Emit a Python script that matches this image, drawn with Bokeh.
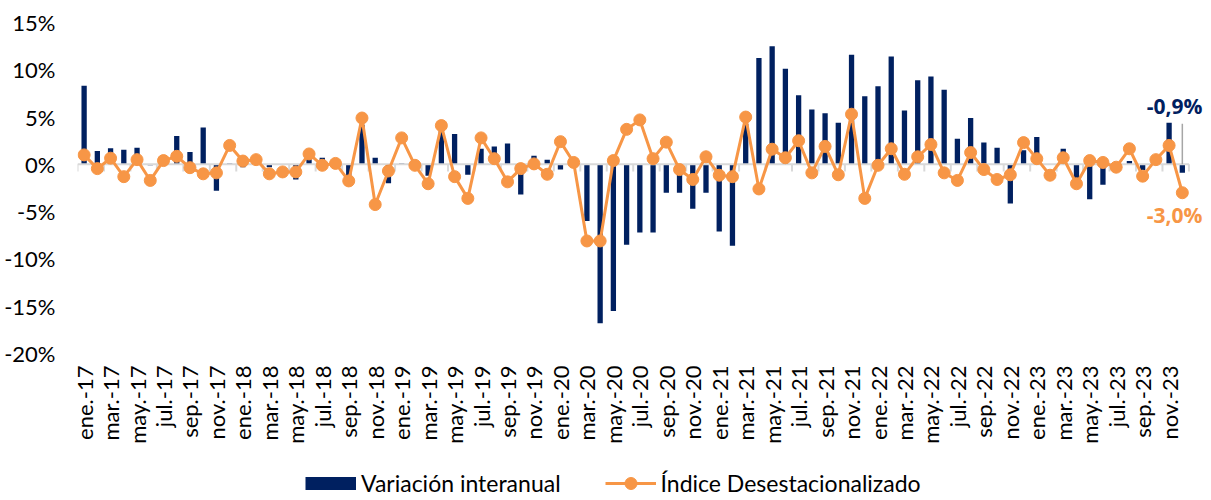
from math import pi
from bokeh.plotting import figure
from bokeh.layouts import column
from bokeh.models import FixedTicker, Legend, LegendItem, Label, Range1d
from bokeh.embed import file_html
from bokeh.resources import INLINE

# ---------------- data ----------------
months_es = ["ene.", "feb.", "mar.", "abr.", "may.", "jun.",
             "jul.", "ago.", "sep.", "oct.", "nov.", "dic."]
years = ["17", "18", "19", "20", "21", "22", "23"]
month_labels = [f"{m}-{y}" for y in years for m in months_es]

# Variación interanual (%)
variacion_interanual = [
    8.3, 1.4, 1.7, 1.55, 1.75, -0.1, 0.95, 3.0, 1.3, 3.9, -2.8, 0.1,        # 2017
    -0.3, 0.05, -0.3, 0.05, -1.6, 0.8, 0.7, 0.05, -1.2, 4.2, 0.7, -2.0,     # 2018
    0.1, 0.0, -1.2, 3.6, 3.2, -1.1, 1.65, 1.9, 2.2, -3.2, 0.9, 0.5,         # 2019
    -0.55, 0.0, -6.0, -16.8, -15.5, -8.5, -7.2, -7.2, -3.0, -3.0, -4.7, -3.0,  # 2020
    -7.1, -8.6, 4.3, 11.25, 12.5, 10.1, 7.3, 5.8, 5.4, 4.4, 11.6, 7.2,      # 2021
    8.25, 11.4, 5.7, 8.9, 9.3, 7.9, 2.7, 4.9, 2.3, 1.75, -4.15, 1.5,        # 2022
    2.9, 0.0, 1.65, -1.5, -3.7, -2.15, 0.05, 0.35, -0.6, 0.0, 4.4, -0.9,    # 2023
]

# Índice Desestacionalizado (variación mensual, %)
indice_desestacionalizado = [
    1.0, -0.45, 0.65, -1.3, 0.5, -1.7, 0.4, 0.85, -0.35, -1.0, -0.9, 2.0,   # 2017
    0.35, 0.5, -1.0, -0.8, -0.8, 1.1, -0.1, 0.1, -1.75, 4.9, -4.25, -0.7,   # 2018
    2.8, -0.1, -2.05, 4.1, -1.3, -3.6, 2.8, 0.6, -1.85, -0.45, 0.05, -1.05, # 2019
    2.4, 0.2, -8.1, -8.1, 0.4, 3.7, 4.7, 0.6, 2.35, -0.55, -1.6, 0.8,       # 2020
    -1.15, -1.3, 5.0, -2.6, 1.6, 0.7, 2.5, -0.9, 1.9, -1.1, 5.3, -3.6,      # 2021
    -0.1, 1.65, -1.05, 0.8, 2.1, -0.9, -1.7, 1.25, -0.55, -1.6, -1.1, 2.3,  # 2022
    0.6, -1.15, 0.7, -2.05, 0.4, 0.2, -0.3, 1.65, -1.25, 0.5, 2.0, -3.0,    # 2023
]

y_ticks = [-20, -15, -10, -5, 0, 5, 10, 15]
series_names = ["Variación interanual", "Índice Desestacionalizado"]

# ---------------- styles ----------------
NAVY = "#002060"
ORANGE = "#F79646"
AXIS_GRAY = "#D9D9D9"
FONT = "Lato"
W = 1203
LEFT = 77

n = len(month_labels)
xs = list(range(n))

p = figure(width=W, height=467,
           x_range=Range1d(-0.5, n + 0.6), y_range=Range1d(y_ticks[0], y_ticks[-1]),
           output_backend="svg", toolbar_location=None,
           min_border_left=LEFT, min_border_right=0, min_border_top=22,
           min_border_bottom=114)
p.outline_line_color = None
p.xgrid.visible = False
p.ygrid.visible = False

# bars
p.vbar(x=xs, top=variacion_interanual, bottom=0, width=0.4,
       fill_color=NAVY, line_color=None)

# zero axis line with tick marks every two months
p.segment(x0=[-0.5], y0=[0], x1=[n - 0.5], y1=[0], line_color=AXIS_GRAY, line_width=2)
tick_x = [i - 0.5 for i in range(0, n + 1, 2)]
p.segment(x0=tick_x, y0=[0] * len(tick_x), x1=tick_x, y1=[-0.75] * len(tick_x),
          line_color=AXIS_GRAY, line_width=2)

# leader line for last bar label
last = n - 1
p.segment(x0=[last], y0=[0], x1=[last], y1=[4.3], line_color="#A6A6A6", line_width=1.5)

# line + markers
p.line(xs, indice_desestacionalizado, line_color=ORANGE, line_width=3)
p.scatter(xs, indice_desestacionalizado, size=12, fill_color=ORANGE, line_color=ORANGE)

# axes
p.yaxis.ticker = FixedTicker(ticks=y_ticks)
p.yaxis.major_label_overrides = {t: f"{t}%" for t in y_ticks}
p.yaxis.axis_line_color = None
p.yaxis.major_tick_line_color = None
p.yaxis.major_tick_out = 0
p.yaxis.major_tick_in = 0
p.yaxis.minor_tick_line_color = None
p.yaxis.major_label_standoff = 22
p.yaxis.major_label_text_font = FONT
p.yaxis.major_label_text_font_size = "22px"
p.yaxis.major_label_text_color = "#000000"

p.xaxis.ticker = FixedTicker(ticks=list(range(0, n, 2)))
p.xaxis.major_label_overrides = {i: month_labels[i] for i in range(0, n, 2)}
p.xaxis.major_label_orientation = pi / 2
p.xaxis.axis_line_color = None
p.xaxis.major_tick_line_color = None
p.xaxis.major_tick_out = 0
p.xaxis.major_tick_in = 0
p.xaxis.minor_tick_line_color = None
p.xaxis.major_label_standoff = 12
p.xaxis.major_label_text_font = FONT
p.xaxis.major_label_text_font_size = "22px"
p.xaxis.major_label_text_color = "#000000"

# end labels
def pct(v):
    return f"{v:.1f}%".replace(".", ",")

p.add_layout(Label(x=last, y=6.2, text=pct(variacion_interanual[-1]),
                   text_align="right", text_baseline="middle", x_offset=20,
                   text_font="Open Sans", text_font_style="bold",
                   text_font_size="21px", text_color=NAVY))
p.add_layout(Label(x=last, y=-5.4, text=pct(indice_desestacionalizado[-1]),
                   text_align="right", text_baseline="middle", x_offset=20,
                   text_font="Open Sans", text_font_style="bold",
                   text_font_size="21px", text_color=ORANGE))

# ---------------- legend strip ----------------
# key glyphs draw the real series, kept outside this strip's visible range
lg = figure(width=W, height=31, x_axis_type=None, y_axis_type=None,
            x_range=Range1d(1000, 1001), y_range=Range1d(1000, 1001),
            output_backend="svg", toolbar_location=None, min_border=0)
lg.outline_line_color = None
lg.xgrid.visible = False
lg.ygrid.visible = False
key_bar = lg.line(xs, variacion_interanual, line_color=NAVY, line_width=13, line_cap="butt")
key_line = lg.line(xs, indice_desestacionalizado, line_color=ORANGE, line_width=3)
key_dot = lg.scatter(xs, indice_desestacionalizado, size=12, fill_color=ORANGE, line_color=ORANGE)

legend = Legend(items=[LegendItem(label=series_names[0], renderers=[key_bar]),
                       LegendItem(label=series_names[1], renderers=[key_line, key_dot])],
                orientation="horizontal", location=(305 - LEFT, 0),
                glyph_width=51, glyph_height=30, label_standoff=5, spacing=44,
                padding=0, margin=0, border_line_color=None,
                background_fill_alpha=0,
                label_text_font=FONT, label_text_font_size="23px",
                label_text_color="#000000")
lg.add_layout(legend, "center")

open("out.html", "w").write(file_html(column(p, lg, spacing=0), INLINE))
